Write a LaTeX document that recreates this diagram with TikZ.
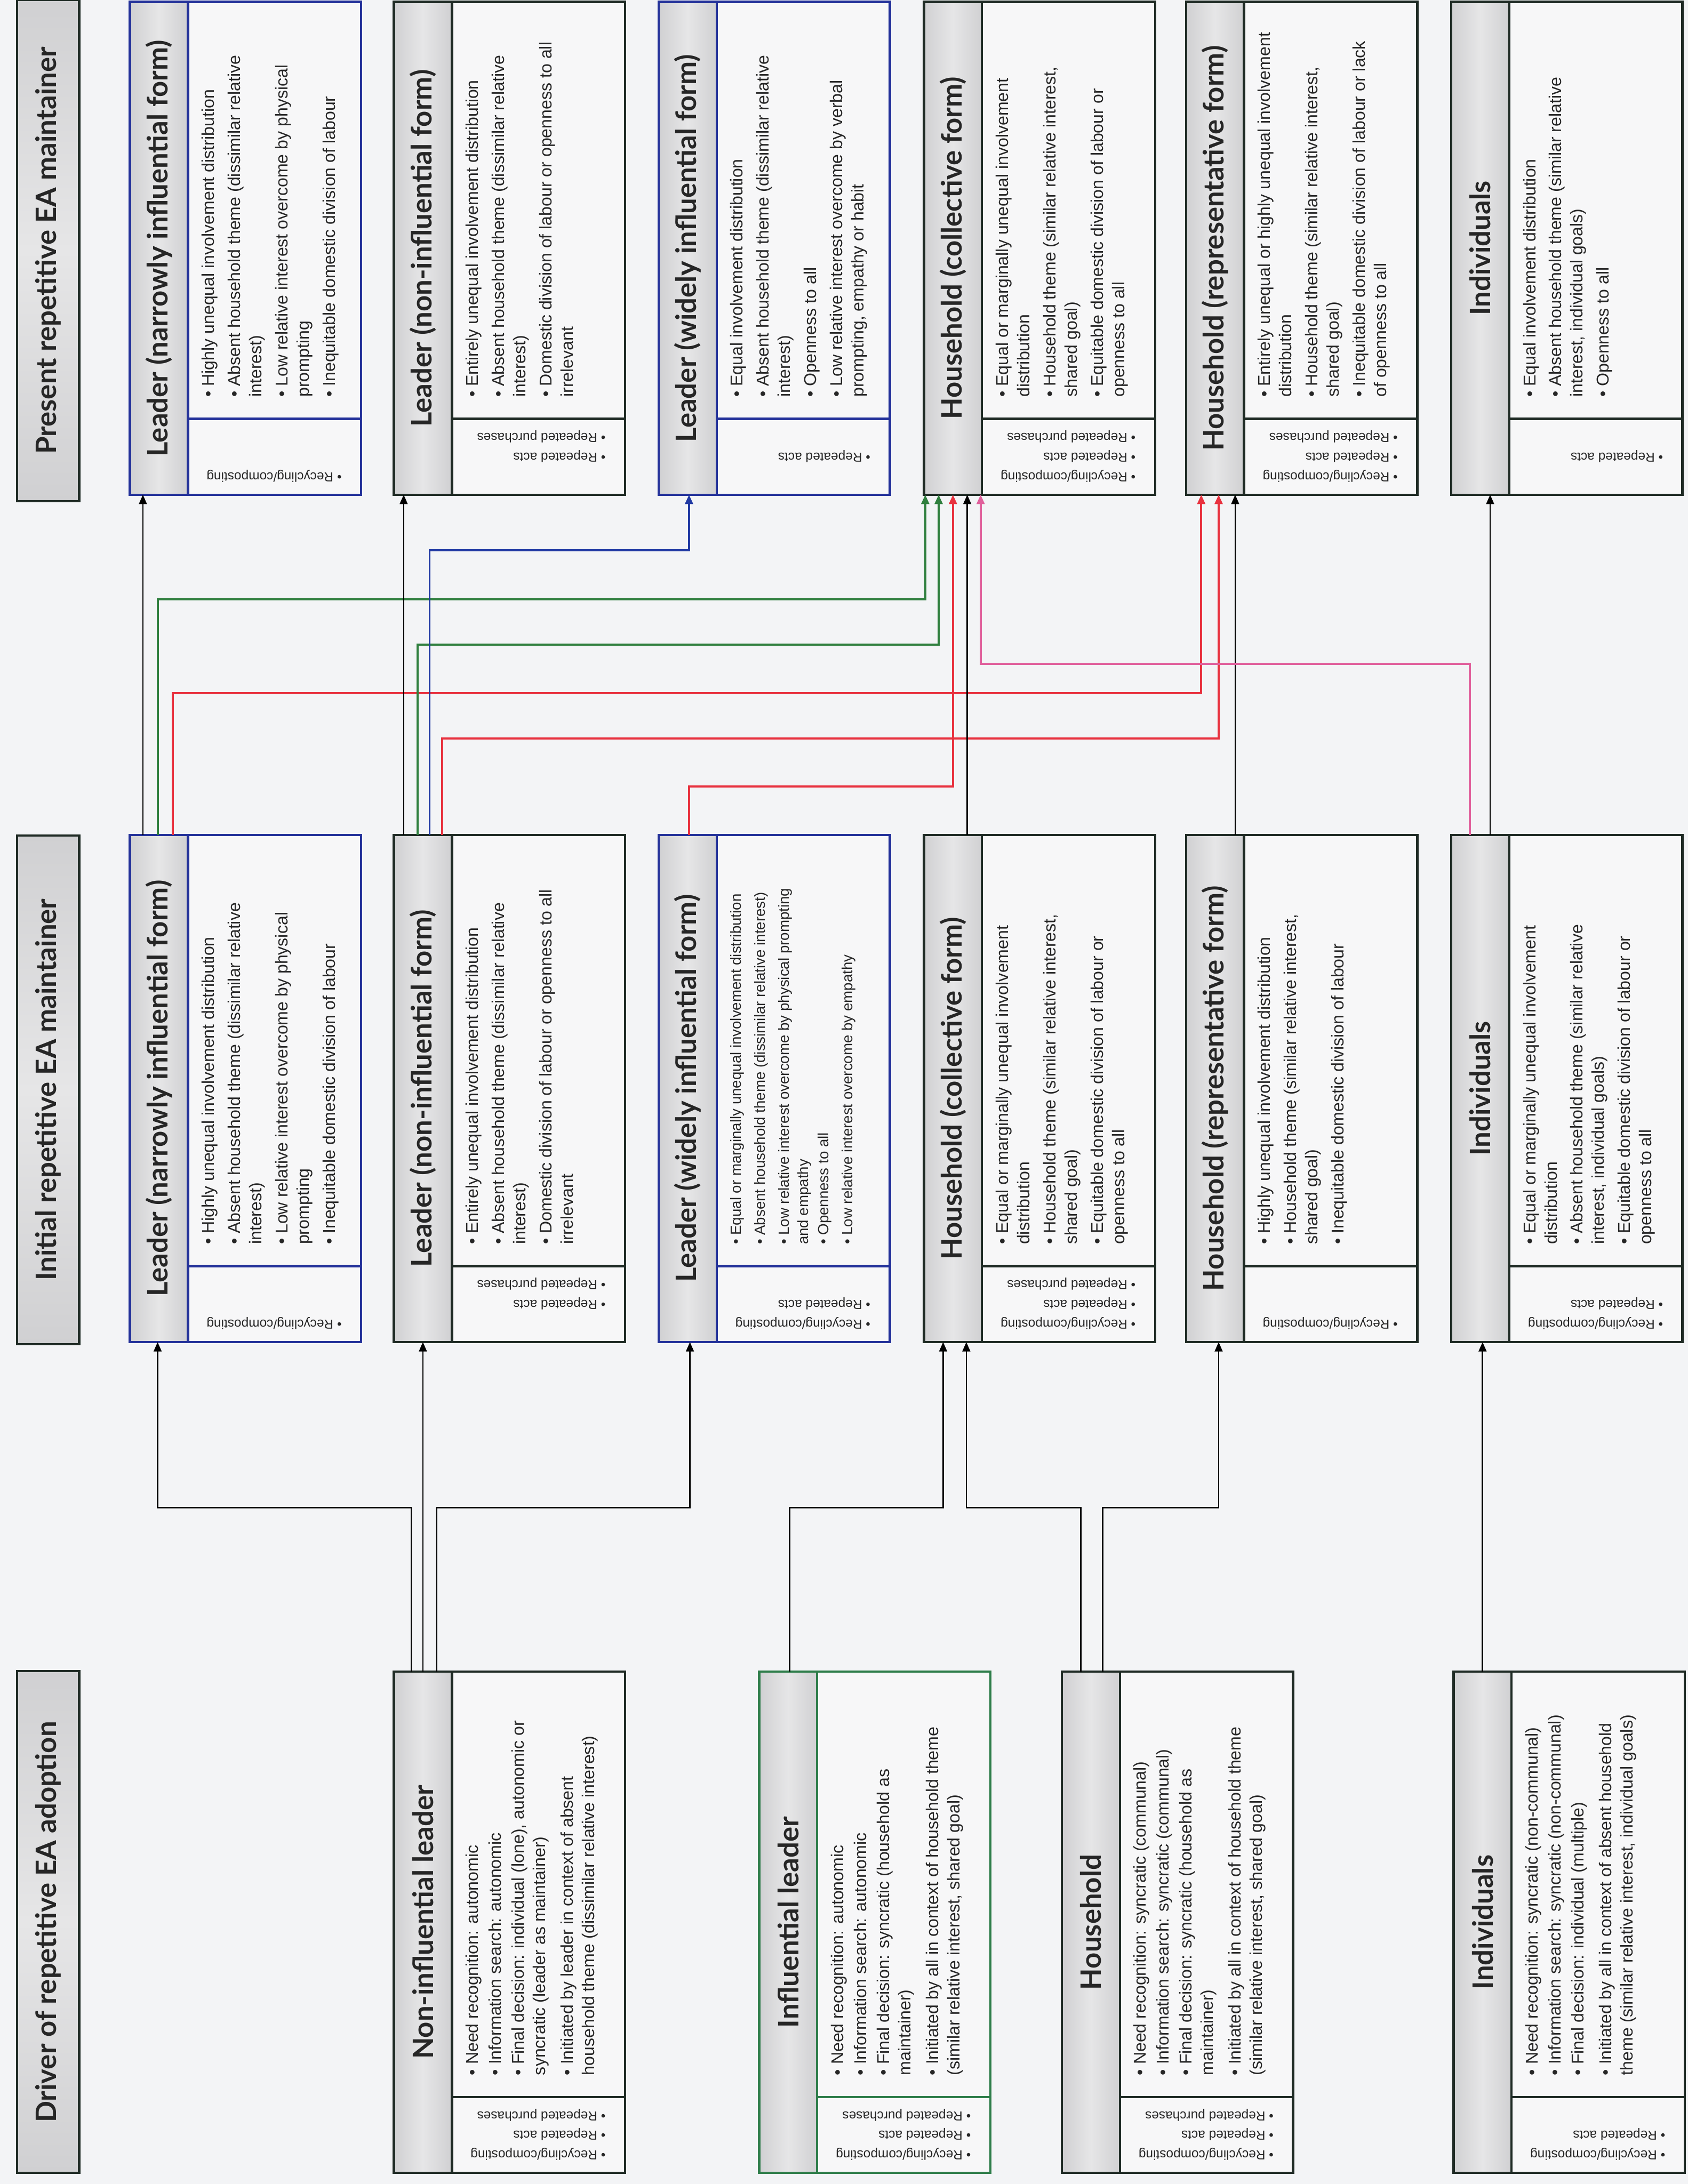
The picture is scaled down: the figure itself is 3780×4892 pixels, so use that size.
\documentclass[tikz,border=0pt]{standalone}
\usepackage{fontspec}
\setmainfont{Liberation Sans}
\newfontfamily\headfont{Lato}
\usetikzlibrary{calc,arrows.meta}

\definecolor{pagebg}{HTML}{F3F4F6}
\definecolor{boxbg}{HTML}{F7F7F8}
\definecolor{stripdark}{HTML}{D0D0D2}
\definecolor{striplight}{HTML}{E6E6E7}
\definecolor{edgeblue}{HTML}{24329A}
\definecolor{edgegreen}{HTML}{2E7D4A}
\definecolor{edgedark}{HTML}{1F2B25}
\definecolor{lkgreen}{HTML}{2F7F3E}
\definecolor{lkred}{HTML}{E8323F}
\definecolor{lkblue}{HTML}{2039A3}
\definecolor{lkpink}{HTML}{E0609C}
\definecolor{inktext}{HTML}{262626}

\tikzset{
  boxframe/.style={rectangle, fill=boxbg, draw=none, inner sep=0pt, minimum width=5.16cm},
  edge/.style={line width=1.5pt},
  headtext/.style={font=\headfont\bfseries\fontsize{17.9}{21}\selectfont, inner sep=0pt, text=inktext},
  bultext/.style={font=\fontsize{10.9}{13.6}\selectfont, align=left, inner sep=0pt, text=inktext},
  smallbul/.style={font=\fontsize{9.4}{12.2}\selectfont, align=left, inner sep=0pt, text=inktext},
  acttext/.style={font=\fontsize{8.3}{10}\selectfont, inner sep=0pt, text=inktext},
  rowlabel/.style={draw=edgedark, line width=1.5pt, inner sep=0pt,
    top color=stripdark, bottom color=stripdark, middle color=striplight,
    font=\headfont\bfseries\fontsize{17.9}{21}\selectfont, text=inktext},
  lk/.style={line width=0.9pt, -{Triangle[length=6pt,width=5pt]}},
  lkc/.style={line width=1.3pt, -{Triangle[length=6pt,width=5pt]}}
}

% one box: name, left x, top y, height, edge colour, heading
\newcommand{\ebox}[6]{%
  \node[boxframe, minimum height=#4, anchor=north west] (#1) at (#2,#3) {};
  \shade[left color=stripdark, right color=stripdark, middle color=striplight]
    (#1.north west) rectangle ($(#1.south west)+(130,0)$);
  \draw[#5, edge] (#1.north west) rectangle (#1.south east);
  \draw[#5, edge] ($(#1.north west)+(130,0)$) -- ($(#1.south west)+(130,0)$);
  \draw[#5, edge] ($(#1.south west)+(130,-170)$) -- ($(#1.south east)+(0,-170)$);
  \node[headtext, rotate=90] (#1-t) at ($(#1.west)+(65,0)$) {#6};
}
% bullet list of a box
\newcommand{\blist}[3]{%
  \node[#1, rotate=90, anchor=north west] (#2-b) at ($(#2.south west)+(160,-218)$) {#3};
}
% one entry of the acts strip: box, offset from bottom, text
\newcommand{\act}[3]{%
  \node[acttext, rotate=180, anchor=west] (#1-a#2) at ($(#1.south east)+(-43,-#2)$) {• #3};
}

\begin{document}
\begin{tikzpicture}[x=0.01cm, y=-0.01cm]
\useasboundingbox (0,0) rectangle (3780,4892);
\fill[pagebg] (0,0) rectangle (3780,4892);

% row labels
\node[rowlabel, rotate=90, minimum width=11.23cm, minimum height=1.39cm] (R1) at (108,561) {Present repetitive EA maintainer};
\node[rowlabel, rotate=90, minimum width=11.39cm, minimum height=1.39cm] (R2) at (108,2441) {Initial repetitive EA maintainer};
\node[rowlabel, rotate=90, minimum width=11.23cm, minimum height=1.39cm] (R3) at (108,4305) {Driver of repetitive EA adoption};

% ---------- present maintainers ----------
\ebox{T1}{291}{4}{11.02cm}{edgeblue}{Leader (narrowly influential form)}
\blist{bultext}{T1}{• Highly unequal involvement distribution\\[3pt]
• Absent household theme (dissimilar relative\\ interest)\\[3pt]
• Low relative interest overcome by physical\\ prompting\\[3pt]
• Inequitable domestic division of labour}
\act{T1}{42}{Recycling/composting}

\ebox{T2}{882}{4}{11.02cm}{edgedark}{Leader (non-influential form)}
\blist{bultext}{T2}{• Entirely unequal involvement distribution\\[3pt]
• Absent household theme (dissimilar relative\\ interest)\\[3pt]
• Domestic division of labour or openness to all\\ irrelevant}
\act{T2}{130}{Repeated purchases}
\act{T2}{86}{Repeated acts}

\ebox{T3}{1475}{4}{11.02cm}{edgeblue}{Leader (widely influential form)}
\blist{bultext}{T3}{• Equal involvement distribution\\[3pt]
• Absent household theme (dissimilar relative\\ interest)\\[3pt]
• Openness to all\\[3pt]
• Low relative interest overcome by verbal\\ prompting, empathy or habit}
\act{T3}{86}{Repeated acts}

\ebox{T4}{2069}{4}{11.02cm}{edgedark}{Household (collective form)}
\blist{bultext}{T4}{• Equal or marginally unequal involvement\\ distribution\\[3pt]
• Household theme (similar relative interest,\\ shared goal)\\[3pt]
• Equitable domestic division of labour or\\ openness to all}
\act{T4}{130}{Repeated purchases}
\act{T4}{86}{Repeated acts}
\act{T4}{42}{Recycling/composting}

\ebox{T5}{2656}{4}{11.02cm}{edgedark}{Household (representative form)}
\blist{bultext}{T5}{• Entirely unequal or highly unequal involvement\\ distribution\\[3pt]
• Household theme (similar relative interest,\\ shared goal)\\[3pt]
• Inequitable domestic division of labour or lack\\ of openness to all}
\act{T5}{130}{Repeated purchases}
\act{T5}{86}{Repeated acts}
\act{T5}{42}{Recycling/composting}

\ebox{T6}{3250}{4}{11.02cm}{edgedark}{Individuals}
\blist{bultext}{T6}{• Equal involvement distribution\\[3pt]
• Absent household theme (similar relative\\ interest, individual goals)\\[3pt]
• Openness to all}
\act{T6}{86}{Repeated acts}

% ---------- initial maintainers ----------
\ebox{M1}{291}{1870}{11.34cm}{edgeblue}{Leader (narrowly influential form)}
\blist{bultext}{M1}{• Highly unequal involvement distribution\\[3pt]
• Absent household theme (dissimilar relative\\ interest)\\[3pt]
• Low relative interest overcome by physical\\ prompting\\[3pt]
• Inequitable domestic division of labour}
\act{M1}{42}{Recycling/composting}

\ebox{M2}{882}{1870}{11.34cm}{edgedark}{Leader (non-influential form)}
\blist{bultext}{M2}{• Entirely unequal involvement distribution\\[3pt]
• Absent household theme (dissimilar relative\\ interest)\\[3pt]
• Domestic division of labour or openness to all\\ irrelevant}
\act{M2}{130}{Repeated purchases}
\act{M2}{86}{Repeated acts}

\ebox{M3}{1475}{1870}{11.34cm}{edgeblue}{Leader (widely influential form)}
\blist{smallbul}{M3}{• Equal or marginally unequal involvement distribution\\[3pt]
• Absent household theme (dissimilar relative interest)\\[3pt]
• Low relative interest overcome by physical prompting\\ and empathy\\[1pt]
• Openness to all\\[3pt]
• Low relative interest overcome by empathy}
\act{M3}{86}{Repeated acts}
\act{M3}{42}{Recycling/composting}

\ebox{M4}{2069}{1870}{11.34cm}{edgedark}{Household (collective form)}
\blist{bultext}{M4}{• Equal or marginally unequal involvement\\ distribution\\[3pt]
• Household theme (similar relative interest,\\ shared goal)\\[3pt]
• Equitable domestic division of labour or\\ openness to all}
\act{M4}{130}{Repeated purchases}
\act{M4}{86}{Repeated acts}
\act{M4}{42}{Recycling/composting}

\ebox{M5}{2656}{1870}{11.34cm}{edgedark}{Household (representative form)}
\blist{bultext}{M5}{• Highly unequal involvement distribution\\[3pt]
• Household theme (similar relative interest,\\ shared goal)\\[3pt]
• Inequitable domestic division of labour}
\act{M5}{42}{Recycling/composting}

\ebox{M6}{3250}{1870}{11.34cm}{edgedark}{Individuals}
\blist{bultext}{M6}{• Equal or marginally unequal involvement\\ distribution\\[3pt]
• Absent household theme (similar relative\\ interest, individual goals)\\[3pt]
• Equitable domestic division of labour or\\ openness to all}
\act{M6}{86}{Repeated acts}
\act{M6}{42}{Recycling/composting}

% ---------- adoption drivers ----------
\ebox{B1}{882}{3744}{11.21cm}{edgedark}{Non-influential leader}
\blist{bultext}{B1}{• Need recognition: autonomic\\[1pt]
• Information search: autonomic\\[1pt]
• Final decision: individual (lone), autonomic or\\ syncratic (leader as maintainer)\\[4pt]
• Initiated by leader in context of absent\\ household theme (dissimilar relative interest)}
\act{B1}{130}{Repeated purchases}
\act{B1}{86}{Repeated acts}
\act{B1}{42}{Recycling/composting}

\ebox{B2}{1700}{3744}{11.21cm}{edgegreen}{Influential leader}
\blist{bultext}{B2}{• Need recognition: autonomic\\[1pt]
• Information search: autonomic\\[1pt]
• Final decision: syncratic (household as\\ maintainer)\\[4pt]
• Initiated by all in context of household theme\\ (similar relative interest, shared goal)}
\act{B2}{130}{Repeated purchases}
\act{B2}{86}{Repeated acts}
\act{B2}{42}{Recycling/composting}

\ebox{B3}{2378}{3744}{11.21cm}{edgedark}{Household}
\blist{bultext}{B3}{• Need recognition: syncratic (communal)\\[1pt]
• Information search: syncratic (communal)\\[1pt]
• Final decision: syncratic (household as\\ maintainer)\\[4pt]
• Initiated by all in context of household theme\\ (similar relative interest, shared goal)}
\act{B3}{130}{Repeated purchases}
\act{B3}{86}{Repeated acts}
\act{B3}{42}{Recycling/composting}

\ebox{B4}{3255}{3744}{11.21cm}{edgedark}{Individuals}
\blist{bultext}{B4}{• Need recognition: syncratic (non-communal)\\[1pt]
• Information search: syncratic (non-communal)\\[1pt]
• Final decision: individual (multiple)\\[4pt]
• Initiated by all in context of absent household\\ theme (similar relative interest, individual goals)}
\act{B4}{86}{Repeated acts}
\act{B4}{42}{Recycling/composting}

% ---------- links: initial -> present ----------
\draw[lk, black] ($(M1.north west)+(29,0)$) -- ($(T1.south west)+(29,0)$);
\draw[lkc, lkgreen] ($(M1.north west)+(63,0)$) |- ($(T4.south west)+(3,234)$) -- ($(T4.south west)+(3,0)$);
\draw[lkc, lkred] ($(M1.north west)+(96,0)$) |- ($(T5.south west)+(34,445)$) -- ($(T5.south west)+(34,0)$);
\draw[lk, black] ($(M2.north west)+(22,0)$) -- ($(T2.south west)+(22,0)$);
\draw[lkc, lkgreen] ($(M2.north west)+(53,0)$) |- ($(T4.south west)+(33,336)$) -- ($(T4.south west)+(33,0)$);
\draw[lkc, lkblue] ($(M2.north west)+(80,0)$) |- ($(T3.south west)+(68,124)$) -- ($(T3.south west)+(68,0)$);
\draw[lkc, lkred] ($(M2.north west)+(108,0)$) |- ($(T5.south west)+(73,546)$) -- ($(T5.south west)+(73,0)$);
\draw[lkc, lkred] ($(M3.north west)+(68,0)$) |- ($(T4.south west)+(65,654)$) -- ($(T4.south west)+(65,0)$);
\draw[lk, black] ($(M4.north west)+(97,0)$) -- ($(T4.south west)+(97,0)$);
\draw[lk, black] ($(M5.north west)+(110,0)$) -- ($(T5.south west)+(110,0)$);
\draw[lkc, lkpink] ($(M6.north west)+(42,0)$) |- ($(T4.south west)+(127,379)$) -- ($(T4.south west)+(127,0)$);
\draw[lk, black] ($(M6.north west)+(87,0)$) -- ($(T6.south west)+(87,0)$);

% ---------- links: drivers -> initial ----------
\draw[lk, black] ($(B1.north west)+(39,0)$) |- ($(M1.south west)+(62,371)$) -- ($(M1.south west)+(62,0)$);
\draw[lk, black] ($(B1.north west)+(65,0)$) -- ($(M2.south west)+(65,0)$);
\draw[lk, black] ($(B1.north west)+(96,0)$) |- ($(M3.south west)+(70,371)$) -- ($(M3.south west)+(70,0)$);
\draw[lk, black] ($(B2.north west)+(68,0)$) |- ($(M4.south west)+(43,371)$) -- ($(M4.south west)+(43,0)$);
\draw[lk, black] ($(B3.north west)+(42,0)$) |- ($(M4.south west)+(95,371)$) -- ($(M4.south west)+(95,0)$);
\draw[lk, black] ($(B3.north west)+(91,0)$) |- ($(M5.south west)+(73,371)$) -- ($(M5.south west)+(73,0)$);
\draw[lk, black] ($(B4.north west)+(65,0)$) -- ($(M6.south west)+(70,0)$);
\end{tikzpicture}
\end{document}
